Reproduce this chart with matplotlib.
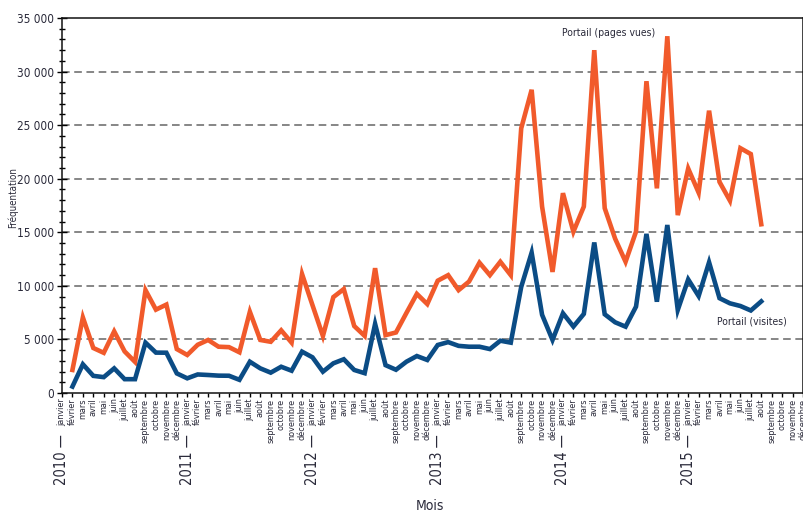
import matplotlib
matplotlib.use("Agg")
import matplotlib.pyplot as plt
from matplotlib.ticker import MultipleLocator, FixedLocator, FuncFormatter

plt.rcParams['font.family'] = ['DejaVu Sans']
plt.rcParams['font.stretch'] = 'condensed'

months = ["janvier", "février", "mars", "avril", "mai", "juin", "juillet",
          "août", "septembre", "octobre", "novembre", "décembre"]
years = [2010, 2011, 2012, 2013, 2014, 2015]

# data from février 2010 to août 2015
pages_vues = [2150, 7050, 4200, 3750, 5750, 3880, 2900, 9600, 7780, 8250,
              4100, 3550, 4500, 4950, 4320, 4280, 3800, 7580, 4950, 4780,
              5850, 4700, 11100, 8200, 5320, 8950, 9700, 6250, 5330, 11650,
              5400, 5650, 7470, 9250, 8300, 10480, 11000, 9600, 10400, 12160,
              11000, 12250, 11000, 24700, 28300, 17400, 11300, 18650, 15050,
              17400, 32000, 17250, 14400, 12250, 15060, 29100, 19100, 33300,
              16600, 20950, 18700, 26350, 19700, 17950, 22850, 22300, 15750]
visites = [600, 2680, 1600, 1480, 2300, 1290, 1290, 4700, 3770, 3760,
           1830, 1370, 1730, 1680, 1620, 1610, 1230, 2920, 2300, 1900,
           2450, 2080, 3860, 3330, 1990, 2770, 3150, 2150, 1850, 6450,
           2600, 2170, 2920, 3450, 3080, 4480, 4750, 4400, 4320, 4320,
           4100, 4880, 4700, 9900, 13100, 7300, 4950, 7440, 6200, 7380,
           14050, 7350, 6600, 6190, 8060, 14850, 8520, 15680, 7750, 10600,
           9050, 12200, 8850, 8370, 8120, 7700, 8550]

orange = "#F15A2B"
blue = "#0B4C85"
txt = "#2a2a3a"

fig = plt.figure(figsize=(8.04, 5.14), dpi=100)
ax = fig.add_axes([62/804, 121/514, 741/804, 375/514])

n_months = len(years) * len(months)
x_data = list(range(1, 1 + len(pages_vues)))

ax.set_xlim(0, n_months - 1)
ax.set_ylim(0, 35000)

for v in range(5000, 35000, 5000):
    ax.axhline(v, color="#666666", lw=1.1, dashes=(5, 3), zorder=1)

ax.plot(x_data, pages_vues, color=orange, lw=3.3, zorder=3, solid_joinstyle='miter')
ax.plot(x_data, visites, color=blue, lw=3.3, zorder=3, solid_joinstyle='miter')

# y axis
ax.yaxis.set_major_locator(MultipleLocator(5000))
ax.yaxis.set_minor_locator(MultipleLocator(1000))
ax.yaxis.set_major_formatter(FuncFormatter(lambda v, p: f"{int(v):,}".replace(",", " ")))
ax.tick_params(axis='y', which='major', direction='inout', length=7, width=1,
               labelsize=8.5, labelcolor=txt, pad=2)
ax.tick_params(axis='y', which='minor', direction='inout', length=5, width=1)

# x axis
labels = [m for y in years for m in months]
ax.xaxis.set_major_locator(FixedLocator(list(range(n_months))))
ax.set_xticklabels(labels, rotation=90, fontsize=6.5, color=txt, va='top')
ax.tick_params(axis='x', which='major', direction='out', length=3, width=1, pad=1)

for i, y in enumerate(years):
    ax.annotate(f"{y} —", xy=(i * 12, 0), xycoords=('data', 'axes fraction'),
                xytext=(0, -29.5), textcoords='offset points', rotation=90,
                ha='center', va='top', fontsize=10.5, color=txt,
                annotation_clip=False)

for s in ax.spines.values():
    s.set_linewidth(1.1)
    s.set_color("#111111")

ax.set_ylabel("Fréquentation", fontsize=7, color=txt)
ax.yaxis.set_label_coords((18 - 62) / 741, 0.52)
fig.text(430/804, 1 - 499/514, "Mois", fontsize=10, color=txt, ha='center', va='top')

ax.annotate("Portail (pages vues)", xy=(609/804, 1 - 33/514), xycoords='figure fraction',
            ha='center', va='center', fontsize=7.5, color=txt)
ax.annotate("Portail (visites)", xy=(752/804, 1 - 322/514), xycoords='figure fraction',
            ha='center', va='center', fontsize=7.5, color=txt)

fig.savefig("out.png", dpi=100)
